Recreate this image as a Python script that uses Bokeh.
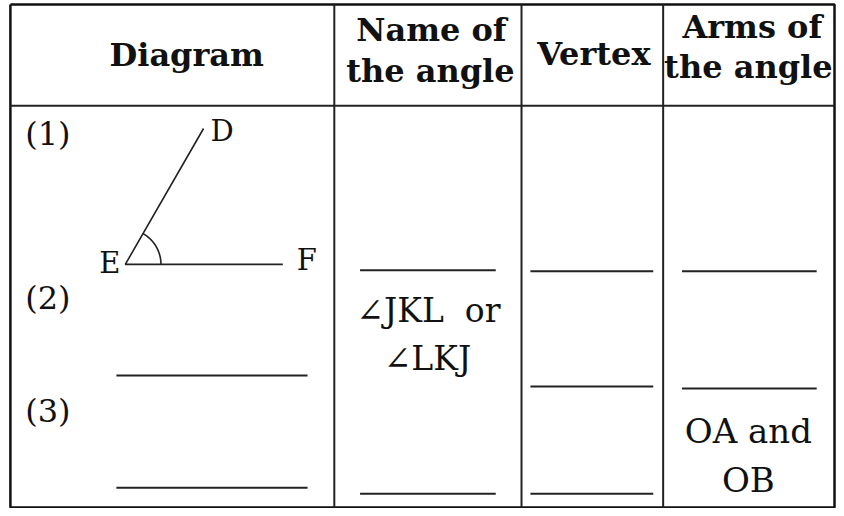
import numpy as np
from bokeh.plotting import figure
from bokeh.models import Range1d
from bokeh.core.properties import value
from bokeh.embed import file_html
from bokeh.resources import INLINE

# ---- table content ----
headers = [["Diagram"], ["Name of", "the angle"], ["Vertex"], ["Arms of", "the angle"]]
row_labels = ["(1)", "(2)", "(3)"]
point_labels = ["D", "E", "F"]
name_text = ["\u2220JKL\u00a0\u00a0or", "\u2220LKJ"]
arms_text = ["OA and", "OB"]

# ---- layout (reference pixel grid; text y = visual centre of capitals) ----
left, right, top, bottom = 10, 842, 4, 515
col_edges = [left, 337, 526, 669, right]
header_bottom = 107
header_pos = [[(188, 55)], [(435, 30), (434, 72)], [(599, 54)], [(759, 27), (755, 68)]]
row_label_y = [136, 302, 417]
blank_rows = {
    0: [381, 495],
    1: [274, 501],
    2: [275, 392, 501],
    3: [275, 394],
}
blank_pad = {0: (107, 27), 1: (26, 26), 2: (9, 10), 3: (19, 18)}
vertex = (126, 268)
arm_d = (205, 130)
arm_f = (285, 268)
arc_r = 36
label_pos = [(212, 133, "left"), (121, 267, "right"), (299, 264, "left")]
name_pos = [(432, 315), (431, 364)]
arms_pos = [(755, 437), (755, 487)]

FONT = "DejaVu Serif"
INK = "#111111"

p = figure(width=836, height=508, x_range=Range1d(0, 844), y_range=Range1d(516, 0),
           output_backend="svg", toolbar_location=None, min_border=0)
p.axis.visible = False
p.grid.visible = False
p.outline_line_color = None
p.background_fill_color = "white"
p.border_fill_color = "white"

# outer border and grid lines
p.line([left, right, right, left, left], [top, top, bottom, bottom, top], line_color=INK, line_width=2.5)
for x in col_edges[1:-1]:
    p.line([x, x], [top, bottom], line_color="#222222", line_width=2)
p.line([left, right], [header_bottom, header_bottom], line_color="#222222", line_width=2)

# headers
for lines, poss in zip(headers, header_pos):
    for txt, (hx, hy) in zip(lines, poss):
        p.text(x=[hx], y=[hy], text=[txt], text_font=value(FONT), text_font_style="bold",
               text_font_size="32px", text_align="center", text_baseline="alphabetic",
               text_color=INK)

# row labels
for lab, ly in zip(row_labels, row_label_y):
    p.text(x=[25], y=[ly], text=[lab], text_font=value(FONT), text_font_size="32px",
           text_align="left", text_baseline="alphabetic", text_color=INK)

# blanks
for c, ys in blank_rows.items():
    x0 = col_edges[c] + blank_pad[c][0]
    x1 = col_edges[c + 1] - blank_pad[c][1]
    for y in ys:
        p.line([x0, x1], [y, y], line_color="#222222", line_width=2)

# angle DEF
p.line([arm_d[0], vertex[0], arm_f[0]], [arm_d[1], vertex[1], arm_f[1]], line_color="#222222", line_width=1.6)
ang = np.arctan2(vertex[1] - arm_d[1], arm_d[0] - vertex[0])
t = np.linspace(0, ang, 40)
p.line(vertex[0] + arc_r * np.cos(t), vertex[1] - arc_r * np.sin(t), line_color="#222222", line_width=1.6)
for lab, (lx, ly, al) in zip(point_labels, label_pos):
    p.text(x=[lx], y=[ly], text=[lab], text_font=value(FONT), text_font_size="29px",
           text_align=al, text_baseline="alphabetic", text_color=INK)

# answers
for txt, (tx, ty) in zip(name_text, name_pos):
    p.text(x=[tx], y=[ty], text=[txt], text_font=value(FONT), text_font_size="33px",
           text_align="center", text_baseline="alphabetic", text_color=INK)
for txt, (tx, ty) in zip(arms_text, arms_pos):
    p.text(x=[tx], y=[ty], text=[txt], text_font=value(FONT), text_font_size="34px",
           text_align="center", text_baseline="alphabetic", text_color=INK)

open("out.html", "w").write(file_html(p, INLINE))
